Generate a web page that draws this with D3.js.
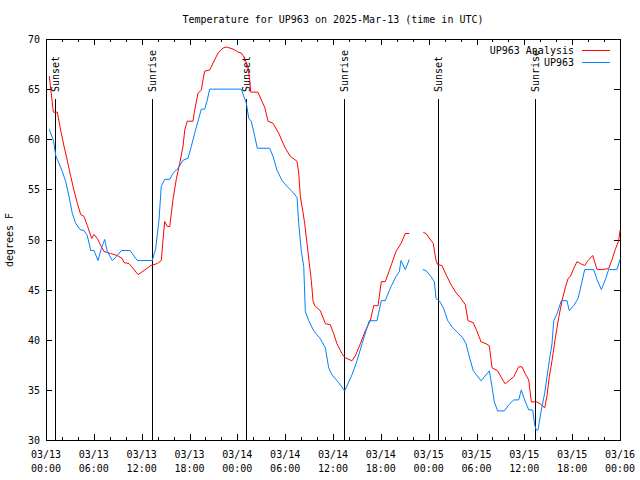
<!DOCTYPE html>
<html><head><meta charset="utf-8">
<script src="https://cdn.jsdelivr.net/npm/d3@7"></script>
<style>
html,body{margin:0;padding:0;background:#fff;}
svg{display:block;font-family:"DejaVu Sans Mono",monospace;font-size:10px;}
</style></head>
<body><svg id="c" width="640" height="480"></svg>
<script>
const title = "Temperature for UP963 on 2025-Mar-13 (time in UTC)";
const yLabel = "degrees F";
const seriesNames = ["UP963 Analysis", "UP963"];
const seriesColors = ["#ff0000", "#0080ff"];
const yTicks = [30, 35, 40, 45, 50, 55, 60, 65, 70];
const startUTC = Date.UTC(2025, 2, 13, 0, 0);
const spanHours = 72;
// sun events, hours after 03/13 00:00 UTC
const sunEventHours = [1.17, 13.33, 25.13, 37.38, 49.2, 61.4];
const sunEventNames = ["Sunset", "Sunrise", "Sunset", "Sunrise", "Sunset", "Sunrise"];

// UP963 Analysis (hours after start, degrees F); null = gap
const analysisHours = [0.41,0.66,0.92,1.42,1.84,2.26,2.67,3.10,3.51,3.93,4.35,4.77,5.18,5.73,6.02,6.44,6.86,7.28,8.12,8.94,9.57,9.78,10.41,11.04,11.54,12.29,13.13,13.96,14.46,14.68,14.89,15.22,15.52,15.72,15.93,16.34,16.77,17.19,17.40,17.72,18.44,18.65,19.07,19.48,19.69,19.91,20.53,20.95,21.58,22.20,22.62,23.46,24.08,24.50,24.84,25.34,25.55,25.68,26.59,27.01,27.43,27.85,28.47,29.19,30.02,30.64,31.49,31.70,31.90,32.20,32.45,32.74,33.03,33.28,33.49,33.71,34.41,35.04,35.66,36.09,36.50,37.13,37.54,38.38,38.80,39.43,40.05,40.68,41.11,41.65,42.06,42.56,43.06,43.28,43.90,44.53,45.07,45.57,46.4,47.33,47.67,48.29,48.58,48.92,49.13,49.67,50.18,50.80,51.43,52.06,52.60,52.93,53.60,54.03,54.57,55.19,55.61,55.95,56.66,57.20,57.61,58.04,58.67,59.29,59.71,60.12,60.55,60.88,61.59,62.00,62.56,62.84,63.13,63.47,63.89,64.31,64.73,65.14,65.48,65.77,66.19,66.61,67.02,67.57,67.99,68.58,69.12,69.74,70.58,71.00,71.41,71.84,72.0];
const analysisTemps = [66.3,64.6,62.7,62.7,60.9,59.3,57.9,56.3,54.9,53.6,52.5,52.3,51.4,50.1,50.5,50.1,49.4,48.8,48.6,48.4,48.1,47.7,47.6,47.0,46.5,46.9,47.4,47.6,47.9,50.0,51.8,51.3,51.3,52.6,54.0,56.0,57.6,59.3,60.9,61.8,61.8,62.9,64.6,64.9,65.9,66.8,66.9,67.6,68.6,69.1,69.2,69.0,68.7,68.6,68.2,67.2,65.9,64.7,64.7,63.9,63.2,61.8,61.6,60.6,59.1,58.3,57.8,56.6,54.3,52.9,51.6,49.6,47.6,45.9,43.9,43.4,42.9,41.6,41.5,40.6,39.6,38.6,38.2,37.9,38.4,39.6,40.9,41.9,43.4,43.4,45.8,45.8,46.9,47.4,48.8,49.6,50.6,50.6,null,50.7,50.6,49.9,49.6,47.9,47.5,47.4,46.5,45.5,44.7,44.1,43.5,41.9,41.7,40.9,39.8,39.6,39.4,37.2,36.9,36.1,35.6,35.9,36.3,37.3,37.3,36.6,36.0,33.8,33.8,33.6,33.2,34.4,36.3,37.9,40.2,42.2,43.9,45.2,46.1,46.3,47.1,47.8,47.6,47.4,47.9,48.4,47.0,47.0,47.1,48.0,49.0,49.9,50.9];

// UP963 observations
const observedHours = [0.41,0.92,1.25,1.63,2.04,2.47,2.89,3.30,3.73,4.26,4.77,5.18,5.61,6.02,6.52,6.94,7.36,7.69,8.32,8.94,9.45,10.54,11.45,13.33,13.76,14.17,14.46,14.89,15.52,15.93,16.56,17.19,17.81,18.23,18.65,19.07,19.48,19.91,20.23,20.53,24.50,24.84,25.13,25.43,25.75,26.18,26.51,28.06,28.47,28.98,29.60,30.23,30.86,31.49,31.70,32.02,32.33,32.53,32.95,33.58,34.41,35.04,35.46,35.88,36.72,37.47,38.38,39.01,39.64,40.27,40.56,41.52,42.06,42.56,43.06,43.28,43.90,44.32,44.53,45.07,45.57,46.4,47.25,47.67,48.29,48.71,48.92,49.33,49.84,50.39,51.02,51.64,52.27,52.68,53.10,53.60,54.57,55.61,55.95,56.23,56.66,57.49,58.04,58.67,59.29,59.62,60.04,60.55,61.05,61.30,61.50,61.72,62.13,62.56,62.84,63.13,63.47,63.69,64.10,64.64,65.35,65.64,66.19,66.73,67.15,67.57,68.70,69.12,69.66,70.16,70.58,71.62,72.0];
const observedTemps = [61.0,59.9,58.3,57.6,56.8,55.8,54.3,52.6,51.6,51.0,50.9,50.4,48.9,48.9,47.9,49.1,50.0,48.8,47.9,48.4,48.9,48.9,47.9,47.9,49.1,51.9,55.3,56.0,56.0,56.6,57.1,57.9,58.1,59.3,60.6,61.8,63.0,63.0,63.9,65.0,65.0,64.2,63.6,62.1,61.8,60.3,59.1,59.1,58.3,56.9,55.9,55.3,54.8,54.2,51.6,48.9,47.3,42.8,41.9,40.9,40.1,39.2,37.2,36.5,35.7,34.9,36.5,37.9,39.6,41.2,41.9,41.9,43.9,43.9,44.9,45.3,46.3,46.8,47.9,47.0,48.0,null,47.0,46.9,46.3,45.8,44.1,43.9,43.2,41.9,41.2,40.7,40.2,39.6,38.3,36.9,35.9,36.9,35.3,33.8,32.9,32.9,33.5,34.0,34.0,35.0,34.0,33.0,33.0,31.5,31.0,31.0,33.0,34.7,36.3,37.9,39.6,41.9,42.6,43.9,43.9,42.9,43.4,44.1,45.5,47.0,47.0,46.0,45.0,46.0,47.0,47.0,48.0];

const svg = d3.select("#c");
const L = 46, R = 620, T = 39, B = 440;
const toDate = h => new Date(startUTC + h * 3600e3);
const x = d3.scaleUtc().domain([toDate(0), toDate(spanHours)]).range([L, R]);
const y = d3.scaleLinear().domain([30, 70]).range([B, T]);

// title
svg.append("text").attr("x", 333).attr("y", 23).attr("text-anchor", "middle").text(title);
// y label
svg.append("text").attr("transform", "translate(13,240) rotate(-90)").attr("text-anchor", "middle").text(yLabel);

const g = svg.append("g").attr("shape-rendering", "crispEdges").attr("stroke", "#000").attr("stroke-width", 1);

// x ticks (inward, both sides)
const minorTicks = x.ticks(d3.utcHour.every(2));
const majorTicks = x.ticks(d3.utcHour.every(6));
minorTicks.forEach(d => {
  const px = Math.round(x(d)) + 0.5;
  const isMajor = d.getUTCHours() % 6 === 0;
  const len = isMajor ? 6 : 3;
  g.append("line").attr("x1", px).attr("x2", px).attr("y1", B).attr("y2", B - len);
  g.append("line").attr("x1", px).attr("x2", px).attr("y1", T).attr("y2", T + len);
});
// y ticks (inward, both sides)
yTicks.forEach(v => {
  const py = Math.round(y(v)) + 0.5;
  g.append("line").attr("x1", L).attr("x2", L + 6).attr("y1", py).attr("y2", py);
  g.append("line").attr("x1", R).attr("x2", R - 6).attr("y1", py).attr("y2", py);
  svg.append("text").attr("x", 40).attr("y", py).attr("dy", "0.35em").attr("text-anchor", "end").text(v);
});
// x tick labels
const fmtDay = d3.utcFormat("%m/%d"), fmtHr = d3.utcFormat("%H:%M");
majorTicks.forEach(d => {
  const px = x(d);
  const t = svg.append("text").attr("text-anchor", "middle");
  t.append("tspan").attr("x", px).attr("y", 458).text(fmtDay(d));
  t.append("tspan").attr("x", px).attr("y", 472).text(fmtHr(d));
});

// sunrise / sunset lines
sunEventHours.forEach((h, i) => {
  const px = Math.round(x(toDate(h))) + 0.5;
  g.append("line").attr("x1", px).attr("x2", px).attr("y1", 99).attr("y2", B);
  svg.append("text").attr("transform", `translate(${px},92) rotate(-90)`)
    .attr("text-anchor", "start").attr("dy", "0.35em").text(sunEventNames[i]);
});

// data lines
const mk = (hs, ts) => hs.map((h, i) => ({d: toDate(h), v: ts[i]}));
const line = d3.line().defined(p => p.v != null).x(p => x(p.d)).y(p => y(p.v));
[[analysisHours, analysisTemps], [observedHours, observedTemps]].forEach(([hs, ts], i) => {
  svg.append("path").attr("d", line(mk(hs, ts))).attr("fill", "none")
    .attr("stroke", seriesColors[i]).attr("stroke-width", 1);
});

// legend
seriesNames.forEach((n, i) => {
  const ly = 50 + i * 12;
  svg.append("text").attr("x", 574).attr("y", ly).attr("dy", "0.35em").attr("text-anchor", "end").text(n);
  g.append("line").attr("x1", 582).attr("x2", 610).attr("y1", ly + 0.5).attr("y2", ly + 0.5).attr("stroke", seriesColors[i]);
});

// frame
g.append("rect").attr("x", L + 0.5).attr("y", T + 0.5).attr("width", R - L).attr("height", B - T).attr("fill", "none");
</script></body></html>
